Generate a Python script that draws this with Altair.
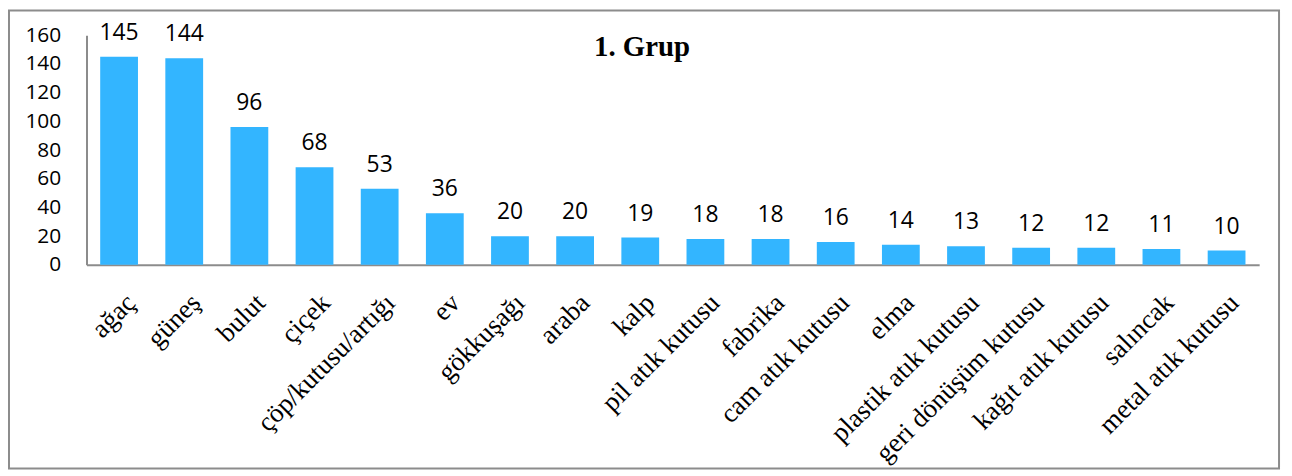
import altair as alt
import pandas as pd

categories = ["ağaç", "güneş", "bulut", "çiçek", "çöp/kutusu/artığı", "ev", "gökkuşağı",
              "araba", "kalp", "pil atık kutusu", "fabrika", "cam atık kutusu", "elma",
              "plastik atık kutusu", "geri dönüşüm kutusu", "kağıt atık kutusu", "salıncak",
              "metal atık kutusu"]
values = [145, 144, 96, 68, 53, 36, 20, 20, 19, 18, 18, 16, 14, 13, 12, 12, 11, 10]
title_text = "1. Grup"

df = pd.DataFrame({"cat": categories, "val": values})

W, H = 1180, 231

yaxis = alt.Axis(values=list(range(0, 161, 20)), grid=False, ticks=False,
                 labelFont="Open Sans", labelFontSize=21, labelColor="black",
                 labelPadding=26, domainColor="#8c8c8c", domainWidth=2,
                 labelOverlap=False)
yenc = alt.Y("val:Q", title=None, scale=alt.Scale(domain=[0, 160]), axis=yaxis)

x = alt.X("cat:N", sort=categories, title=None,
          scale=alt.Scale(paddingInner=0.42, paddingOuter=0.21),
          axis=alt.Axis(labels=False, ticks=False, domainColor="#8c8c8c", domainWidth=2))

bars = alt.Chart(df).mark_bar(color="#33B5FF").encode(x=x, y=yenc)
values_text = alt.Chart(df).mark_text(baseline="bottom", dy=-12, font="Open Sans",
                                      fontSize=23, color="black").encode(
    x=x, y=yenc, text="val:Q")
base = alt.layer(bars, values_text)

cat_labels = alt.Chart(df).mark_text(
    align="right", baseline="top", angle=315, font="Liberation Serif",
    fontSize=27, color="black").encode(
    x=alt.X("cat:N", sort=categories, axis=None,
            scale=alt.Scale(type="point", range=[36, 1146], padding=0)),
    y=alt.value(256), text="cat:N")

frame = alt.Chart(pd.DataFrame({"t": [title_text]})).mark_rect(
    fill=None, stroke="#8c8c8c", strokeWidth=2).encode(
    x=alt.value(-78), x2=alt.value(1200), y=alt.value(-25), y2=alt.value(436))

title = alt.Chart(pd.DataFrame({"t": [title_text]})).mark_text(
    font="Liberation Serif", fontSize=29, fontWeight="bold", color="black").encode(
    x=alt.value(559), y=alt.value(12), text="t:N")

chart = alt.layer(frame, base, cat_labels, title).resolve_scale(x="independent").properties(
    width=W, height=H,
    autosize=alt.AutoSizeParams(type="none"),
    padding={"left": 79, "top": 26, "right": 25, "bottom": 211}
).configure_view(stroke=None).configure_axis(labelOverlap=False)

chart.save("out.html", embed_options={"renderer": "svg", "actions": False})
